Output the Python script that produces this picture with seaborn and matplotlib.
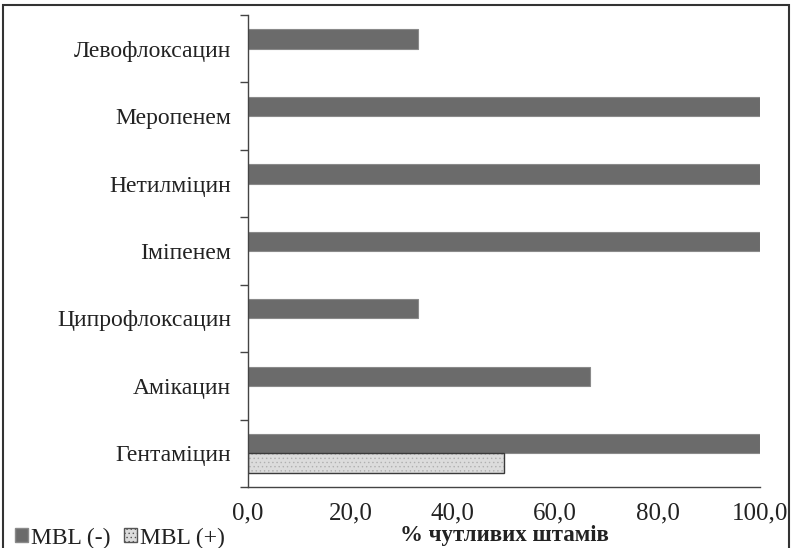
import matplotlib
matplotlib.use("Agg")
import matplotlib.pyplot as plt
import seaborn as sns
import pandas as pd
import numpy as np
from matplotlib.patches import Rectangle, Patch
from matplotlib.ticker import FuncFormatter, FixedLocator

drugs = ["Левофлоксацин", "Меропенем", "Нетилміцин", "Іміпенем",
         "Ципрофлоксацин", "Амікацин", "Гентаміцин"]
mbl_neg = [33.3, 100.0, 100.0, 100.0, 33.3, 66.7, 100.0]
mbl_pos = [0.0, 0.0, 0.0, 0.0, 0.0, 0.0, 50.0]
series = ["MBL (-)", "MBL (+)"]
xlabel = "% чутливих штамів"

df = pd.DataFrame({
    "drug": drugs * 2,
    "value": mbl_neg + mbl_pos,
    "series": [series[0]] * len(drugs) + [series[1]] * len(drugs),
})

sns.set_theme(style="white")
plt.rcParams["font.family"] = ["Liberation Serif", "DejaVu Serif"]
plt.rcParams["hatch.color"] = "#b8b8b8"
plt.rcParams["hatch.linewidth"] = 0.5

fig = plt.figure(figsize=(7.96, 5.48), dpi=100)
ax = fig.add_axes([248/796, 1-487/548, (760-248)/796, (487-15)/548])

dark = "#6b6b6b"
light = "#dcdcdc"
sns.barplot(data=df, y="drug", x="value", hue="series", order=drugs,
            hue_order=series, palette=[dark, light], width=0.57,
            orient="h", ax=ax, legend=False, saturation=1)

for p in ax.patches:
    fc = p.get_facecolor()
    if p.get_width() <= 0:
        p.set_visible(False)
        continue
    if fc[0] > 0.7:
        p.set_hatch("....")
        p.set_edgecolor("#3a3a3a")
        p.set_linewidth(1.0)
        p._hatch_color = matplotlib.colors.to_rgba("#b0b0b0")
    else:
        p.set_edgecolor("#8a8a8a")
        p.set_linewidth(0.8)

ax.set_xlim(0, 100)
ax.set_ylim(len(drugs) - 0.5, -0.5)
ax.set_xticks([0, 20, 40, 60, 80, 100])
ax.xaxis.set_major_formatter(FuncFormatter(lambda v, _: f"{v:.1f}".replace(".", ",")))
ax.tick_params(axis="x", direction="out", length=6, width=1, color="#444444",
               labelsize=18, pad=5, labelcolor="#222222")
ax.tick_params(axis="y", which="major", length=0, labelsize=17, pad=12,
               labelcolor="#222222")
ax.yaxis.set_minor_locator(FixedLocator(np.arange(-0.5, len(drugs), 1.0)))
ax.tick_params(axis="y", which="minor", direction="out", length=6, width=1,
               color="#444444", left=True)
ax.set_ylabel("")
ax.set_xlabel(xlabel, fontsize=16.5, fontweight="bold", color="#222222")
ax.xaxis.set_label_coords(0.5, (487 - 541) / 472)
ax.xaxis.label.set_verticalalignment("baseline")

for s in ["top", "right"]:
    ax.spines[s].set_visible(False)
for s in ["left", "bottom"]:
    ax.spines[s].set_color("#444444")
    ax.spines[s].set_linewidth(1)

# outer frame
fig.patches.append(Rectangle((3/796, -0.05), (789-3)/796, 1-5/548+0.05,
                             transform=fig.transFigure, fill=False,
                             edgecolor="#333333", linewidth=1.5, clip_on=False))

handles = [Patch(facecolor=dark, edgecolor="#8a8a8a", label=series[0]),
           Patch(facecolor=light, edgecolor="#555555", hatch="....", label=series[1])]
fig.legend(handles=handles, loc="lower left", bbox_to_anchor=(-0.008, -0.04),
           ncol=2, frameon=False, fontsize=17, handlelength=0.55,
           handleheight=0.55, handletextpad=0.15, columnspacing=0.55,
           labelcolor="#222222")

fig.savefig("out.png", dpi=100)
